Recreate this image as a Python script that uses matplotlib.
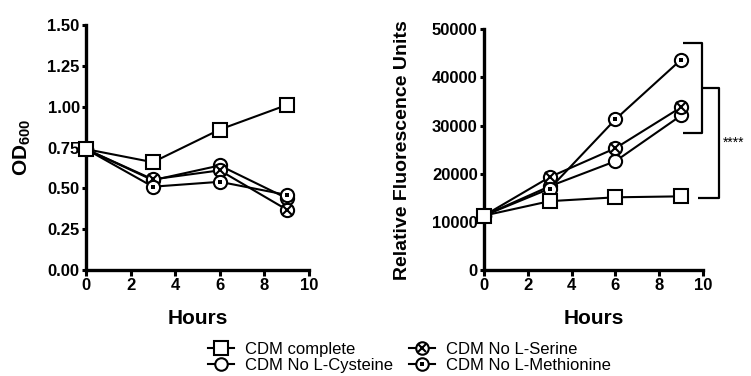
import matplotlib
matplotlib.use("Agg")
import matplotlib.pyplot as plt
from matplotlib.lines import Line2D
from matplotlib.legend_handler import HandlerTuple

plt.rcParams['font.family'] = ['Liberation Sans', 'DejaVu Sans']
plt.rcParams['mathtext.fontset'] = 'custom'
plt.rcParams['mathtext.rm'] = 'Liberation Sans'
plt.rcParams['mathtext.bf'] = 'Liberation Sans:bold'

# data
hours = [0, 3, 6, 9]
labels = ['CDM complete', 'CDM No L-Cysteine', 'CDM No L-Serine', 'CDM No L-Methionine']

od_complete = [0.74, 0.66, 0.86, 1.01]
od_cys = [0.74, 0.55, 0.64, 0.44]
od_ser = [0.74, 0.555, 0.61, 0.37]
od_met = [0.74, 0.51, 0.54, 0.46]

rfu_complete = [11300, 14300, 15100, 15300]
rfu_cys = [11300, 17400, 22600, 32100]
rfu_ser = [11300, 19300, 25300, 33800]
rfu_met = [11300, 16900, 31300, 43700]

od_ticks = [0, 0.25, 0.5, 0.75, 1.0, 1.25, 1.5]
rfu_ticks = [0, 10000, 20000, 30000, 40000, 50000]
x_ticks = [0, 2, 4, 6, 8, 10]

LW = 1.5
MEW = 1.5


def draw(ax, ys):
    comp, cys, ser, met = ys
    for y in (cys, ser, met, comp):
        ax.plot(hours, y, color='black', lw=LW, zorder=2, clip_on=False)
    # cysteine: open circle
    ax.plot(hours, cys, ls='none', marker='o', ms=9.5, mfc='white', mec='black', mew=MEW, zorder=3, clip_on=False)
    # serine: circle with x
    ax.plot(hours, ser, ls='none', marker='o', ms=9.5, mfc='white', mec='black', mew=MEW, zorder=4, clip_on=False)
    ax.plot(hours, ser, ls='none', marker='x', ms=6.5, mec='black', mew=MEW, zorder=4, clip_on=False)
    # methionine: circle with dot
    ax.plot(hours, met, ls='none', marker='o', ms=9.5, mfc='white', mec='black', mew=MEW, zorder=5, clip_on=False)
    ax.plot(hours, met, ls='none', marker='s', ms=2.5, mfc='black', mec='black', mew=0, zorder=5, clip_on=False)
    # complete: square
    ax.plot(hours, comp, ls='none', marker='s', ms=10.5, mfc='white', mec='black', mew=MEW, zorder=6, clip_on=False)


def style(ax):
    for s in ('top', 'right'):
        ax.spines[s].set_visible(False)
    for s in ('left', 'bottom'):
        ax.spines[s].set_linewidth(2.4)
    ax.tick_params(direction='out', width=2.2, labelsize=12, pad=1.5)
    ax.tick_params(axis='x', length=4)
    ax.tick_params(axis='y', length=3)
    for t in ax.get_xticklabels() + ax.get_yticklabels():
        t.set_fontweight('bold')
    ax.set_xlim(0, 10)
    ax.set_xticks(x_ticks)
    ax.set_xlabel('Hours', fontsize=15, fontweight='bold', labelpad=12)


fig = plt.figure(figsize=(7.51, 3.76), dpi=100)
ax1 = fig.add_axes([0.1145, 0.2819, 0.2969, 0.6516])
ax2 = fig.add_axes([0.6445, 0.2819, 0.2916, 0.6402])

draw(ax1, (od_complete, od_cys, od_ser, od_met))
ax1.set_ylim(0, 1.5)
ax1.set_yticks(od_ticks)
ax1.set_yticklabels(['%.2f' % v for v in od_ticks])
ax1.set_ylabel(r'OD$_{\mathbf{600}}$', fontsize=15, fontweight='bold', labelpad=10)
style(ax1)

draw(ax2, (rfu_complete, rfu_cys, rfu_ser, rfu_met))
ax2.set_ylim(0, 50000)
ax2.set_yticks(rfu_ticks)
ax2.set_yticklabels([str(v) for v in rfu_ticks])
ax2.set_ylabel('Relative Fluorescence Units', fontsize=14, fontweight='bold', labelpad=15)
style(ax2)

# significance brackets
bk = dict(color='black', lw=1.6, clip_on=False, solid_capstyle='butt')
ax2.plot([9.1, 9.94, 9.94, 9.1], [47200, 47200, 28400, 28400], **bk)
ax2.plot([9.94, 10.73, 10.73, 9.77], [37800, 37800, 15000, 15000], **bk)
ax2.text(10.9, 26400, '****', fontsize=10, ha='left', va='center')

# legend
def handle(kind):
    base = dict(color='black', lw=LW, mfc='white', mec='black', mew=MEW)
    if kind == 'sq':
        return Line2D([], [], marker='s', ms=10, **base)
    ring = Line2D([], [], marker='o', ms=9, **base)
    if kind == 'o':
        return ring
    if kind == 'x':
        return (ring, Line2D([], [], ls='none', marker='x', ms=6, mec='black', mew=MEW))
    return (ring, Line2D([], [], ls='none', marker='s', ms=2.5, mfc='black', mec='black', mew=0))

handles = [handle('sq'), handle('o'), handle('x'), handle('dot')]
fig.legend(handles, labels, ncol=2, loc='center', bbox_to_anchor=(0.545, 0.05),
           frameon=False, fontsize=12, handlelength=1.55, handletextpad=0.63,
           columnspacing=1.0, labelspacing=0.08, borderpad=0, numpoints=1,
           handler_map={tuple: HandlerTuple(ndivide=1)})

fig.savefig('out.png', dpi=100)
